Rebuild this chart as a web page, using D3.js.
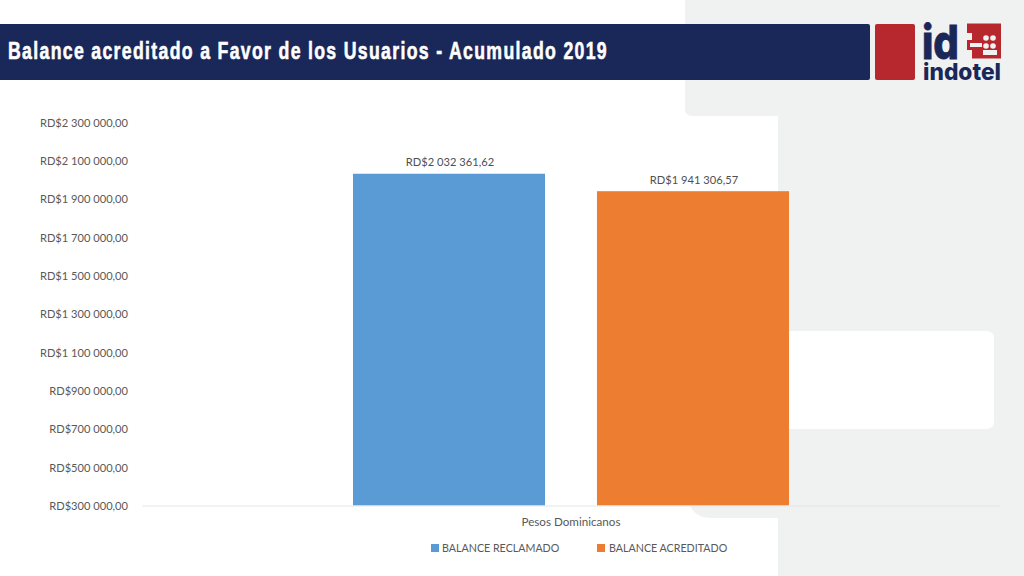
<!DOCTYPE html>
<html>
<head>
<meta charset="utf-8">
<script src="https://cdn.jsdelivr.net/npm/d3@7"></script>
<style>
html, body { margin: 0; padding: 0; background: #fff; overflow: hidden; }
svg { display: block; }
text { font-family: Lato, "Open Sans", sans-serif; }
</style>
</head>
<body>
<script>
const categories = ["Pesos Dominicanos"];
const seriesNames = ["BALANCE RECLAMADO", "BALANCE ACREDITADO"];
const seriesValues = [2032361.62, 1941306.57];
const seriesColors = ["#5b9bd5", "#ed7d31"];
const yTicks = [300000, 500000, 700000, 900000, 1100000, 1300000, 1500000, 1700000, 1900000, 2100000, 2300000];
const titleText = "Balance acreditado a Favor de los Usuarios - Acumulado 2019";

const width = 1024, height = 576;
const grey = "#f0f2f2", textColor = "#595959";

const svg = d3.select("body").append("svg")
    .attr("width", width)
    .attr("height", height);

// Lato runs wider than the reference font, so pull the glyphs in a bit
function squeeze(sel, k) {
    sel.each(function () {
        const len = this.getComputedTextLength();
        d3.select(this).attr("textLength", len * k).attr("lengthAdjust", "spacingAndGlyphs");
    });
}

// slide background, white with grey blocks behind the chart
const bg = svg.append("g");
bg.append("path").attr("fill", grey)
    .attr("d", "M685,0H1024V576H778V518H712Q695,518 690,505.5H778V116H692Q685,116 685,109Z");
bg.append("path").attr("fill", "#fff")
    .attr("d", "M685,116H772Q778,116 778,122V505H685Z");
bg.append("path").attr("fill", "#fff")
    .attr("d", "M778,331H986Q994,331 994,339V421Q994,429 986,429H778Z");
bg.append("path").attr("fill", "#fff")
    .attr("d", "M690,518H773Q778,518 778,523V576H690Z");

// header
svg.append("rect").attr("x", -4).attr("y", 24).attr("width", 874).attr("height", 56).attr("rx", 2).attr("fill", "#1a2859");
svg.append("rect").attr("x", 875).attr("y", 24).attr("width", 40).attr("height", 56).attr("rx", 2).attr("fill", "#b7282e");
svg.append("text")
    .attr("x", 8).attr("y", 58.5)
    .attr("textLength", 600)
    .attr("lengthAdjust", "spacingAndGlyphs")
    .style("font-family", "'Liberation Sans', sans-serif")
    .style("font-weight", 700).style("font-size", "24px")
    .style("letter-spacing", "1.8px")
    .attr("fill", "#fff").attr("stroke", "#fff").attr("stroke-width", 0.6)
    .text(titleText);

// logo
const logo = svg.append("g");
logo.append("text").attr("x", 922).attr("y", 59).attr("textLength", 37).attr("lengthAdjust", "spacingAndGlyphs")
    .style("font-family", "Inter, sans-serif").style("font-weight", 800).style("font-size", "47px")
    .attr("fill", "#1a2859").attr("stroke", "#1a2859").attr("stroke-width", 0.8).text("id");
logo.append("text").attr("x", 923).attr("y", 80).attr("textLength", 78).attr("lengthAdjust", "spacingAndGlyphs")
    .style("font-family", "Inter, sans-serif").style("font-weight", 800).style("font-size", "23px")
    .attr("fill", "#1a2859").text("indotel");
logo.append("path").attr("fill", "#b7282e")
    .attr("d", "M967,23.5H1001V58.5H972V50H967Z");
logo.append("rect").attr("x", 960).attr("y", 33).attr("width", 12).attr("height", 7).attr("fill", "#f0f2f2");
logo.append("rect").attr("x", 970).attr("y", 43).attr("width", 12).attr("height", 4).attr("fill", "#f0f2f2");
logo.append("rect").attr("x", 983).attr("y", 50).attr("width", 14).attr("height", 5).attr("fill", "#f0f2f2");
logo.selectAll("circle.dot")
    .data([[986, 38], [993, 38], [986, 46], [993, 46]])
    .enter().append("circle")
    .attr("cx", d => d[0]).attr("cy", d => d[1]).attr("r", 2.8)
    .attr("fill", "#f0f2f2");

// scales
const plot = { left: 142, right: 1000, top: 122.5, bottom: 505.5 };

const y = d3.scaleLinear()
    .domain([300000, 2300000])
    .range([plot.bottom, plot.top]);

const x0 = d3.scaleBand()
    .domain(categories)
    .range([plot.left, plot.right]);

const x1 = d3.scaleBand()
    .domain(seriesNames)
    .range([x0(categories[0]) + 211, x0(categories[0]) + 647])
    .paddingInner(0.213)
    .paddingOuter(0);

const money = d3.formatLocale({
    decimal: ",",
    thousands: " ",
    grouping: [3],
    currency: ["RD$", ""]
}).format("$,.2f");

// y axis labels only, no line
const yAxis = svg.append("g")
    .attr("transform", `translate(${plot.left},0)`)
    .call(d3.axisLeft(y).tickValues(yTicks).tickFormat(money).tickSize(0).tickPadding(14));
yAxis.select(".domain").remove();
yAxis.selectAll("text")
    .style("font-family", "Lato, sans-serif")
    .style("font-size", "12px")
    .attr("fill", textColor)
    .call(squeeze, 0.926);

// bars
svg.selectAll("rect.bar")
    .data(seriesValues)
    .enter()
    .append("rect")
    .attr("class", "bar")
    .attr("x", (d, i) => x1(seriesNames[i]))
    .attr("y", d => y(d))
    .attr("width", x1.bandwidth())
    .attr("height", d => y(300000) - y(d))
    .attr("fill", (d, i) => seriesColors[i]);

svg.selectAll("text.value")
    .data(seriesValues)
    .enter()
    .append("text")
    .attr("class", "value")
    .attr("x", (d, i) => x1(seriesNames[i]) + x1.bandwidth() / 2 + 1)
    .attr("y", d => y(d) - 7.5)
    .attr("text-anchor", "middle")
    .style("font-size", "12px")
    .attr("fill", "#505050")
    .text(d => money(d))
    .call(squeeze, 0.93);

// x axis
const xAxis = svg.append("g")
    .attr("transform", `translate(0,${plot.bottom})`)
    .call(d3.axisBottom(x0).tickSize(0).tickPadding(12));
xAxis.select(".domain").attr("stroke", "#e3e5e5").attr("stroke-width", 1);
xAxis.selectAll("text")
    .style("font-family", "Lato, sans-serif")
    .style("font-size", "12px")
    .attr("fill", textColor)
    .call(squeeze, 0.97);

// legend
const legendX = [431, 597];
const legend = svg.selectAll("g.legend")
    .data(seriesNames)
    .enter()
    .append("g")
    .attr("class", "legend")
    .attr("transform", (d, i) => `translate(${legendX[i]},544)`);
legend.append("rect")
    .attr("width", 8).attr("height", 8)
    .attr("fill", (d, i) => seriesColors[i]);
legend.append("text")
    .attr("x", (d, i) => i === 0 ? 11 : 12)
    .attr("y", 8)
    .style("font-size", "12px")
    .attr("fill", textColor)
    .text(d => d)
    .call(squeeze, 0.89);
</script>
</body>
</html>
